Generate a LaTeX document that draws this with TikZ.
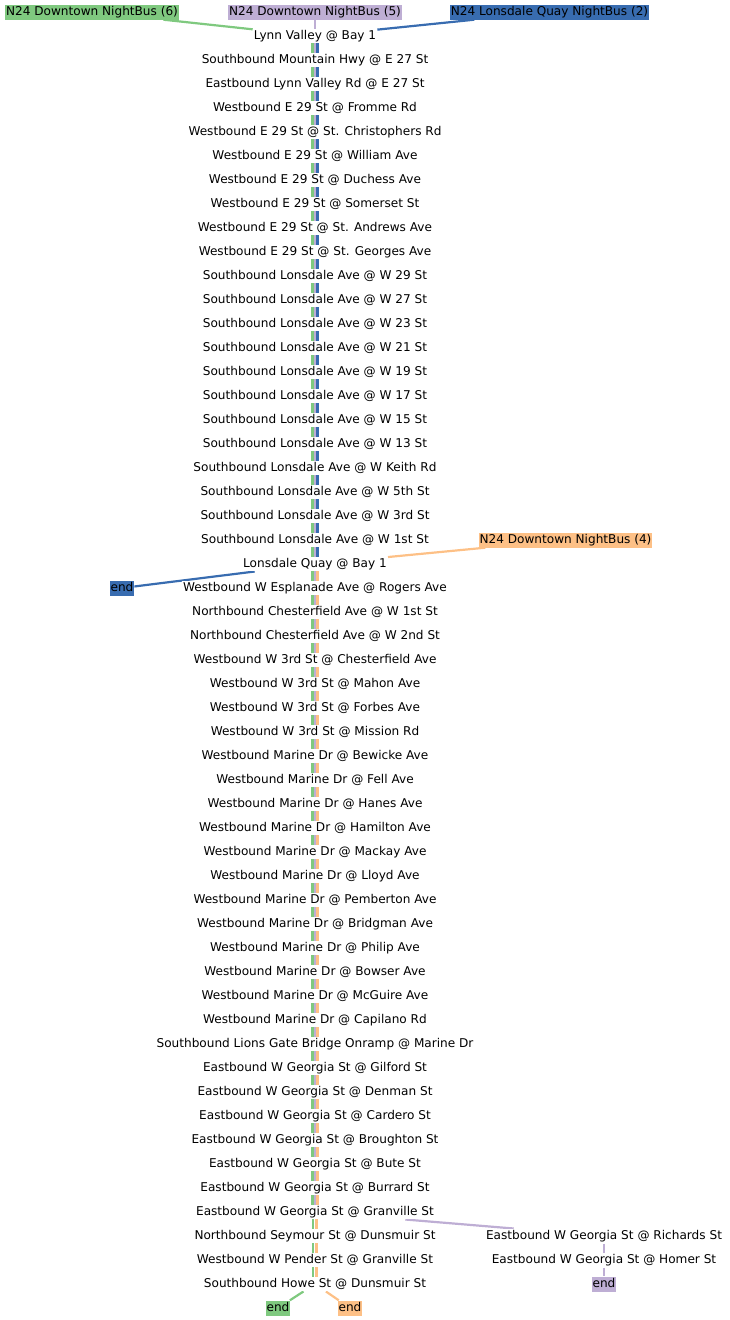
\documentclass[tikz,border=0pt]{standalone}
\usepackage{fontspec}
\setmainfont{DejaVu Sans}
\usetikzlibrary{backgrounds}
\definecolor{rgrn} {HTML}{7FC97F}
\definecolor{rpurp}{HTML}{BEAED4}
\definecolor{rorng}{HTML}{FDC086}
\definecolor{rblue}{HTML}{386CB0}
\tikzset{
  % White stop label
  SB/.style={rectangle,fill=white,inner xsep=1pt,inner ysep=1.5pt,
             text height=9pt,text depth=2.6pt,
             font=\fontsize{12.1}{14}\selectfont},
  % Coloured route tag / end tag
  TG/.style={SB,fill=#1,inner xsep=0.8pt,inner ysep=1.7pt},
  % Route lines
  GLn/.style={line width=2.2pt,color=rgrn},
  PLn/.style={line width=2.2pt,color=rpurp},
  BLn/.style={line width=2.2pt,color=rblue},
  OLn/.style={line width=2.2pt,color=rorng},
}
\begin{document}
\begin{tikzpicture}[x=1pt,y=-1pt]
      \useasboundingbox (0,-1) rectangle (729,1319);
      % route tags
      \node[TG=rgrn]  (t6) at (92,11)   {N24 Downtown NightBus (6)};
      \node[TG=rpurp] (t5) at (315,11)  {N24 Downtown NightBus (5)};
      \node[TG=rblue] (t2) at (549.5,11) {N24 Lonsdale Quay NightBus (2)};
      \node[TG=rorng] (t4) at (565.5,539) {N24 Downtown NightBus (4)};
      % main column of stops
      \node[SB] (s1)  at (315,35)   {Lynn Valley @ Bay 1};
      \node[SB] (s2)  at (315,59)   {Southbound Mountain Hwy @ E 27 St};
      \node[SB] (s3)  at (315,83)   {Eastbound Lynn Valley Rd @ E 27 St};
      \node[SB] (s4)  at (315,107)  {Westbound E 29 St @ Fromme Rd};
      \node[SB] (s5)  at (315,131)  {Westbound E 29 St @ St. Christophers Rd};
      \node[SB] (s6)  at (315,155)  {Westbound E 29 St @ William Ave};
      \node[SB] (s7)  at (315,179)  {Westbound E 29 St @ Duchess Ave};
      \node[SB] (s8)  at (315,203)  {Westbound E 29 St @ Somerset St};
      \node[SB] (s9)  at (315,227)  {Westbound E 29 St @ St. Andrews Ave};
      \node[SB] (s10) at (315,251)  {Westbound E 29 St @ St. Georges Ave};
      \node[SB] (s11) at (315,275)  {Southbound Lonsdale Ave @ W 29 St};
      \node[SB] (s12) at (315,299)  {Southbound Lonsdale Ave @ W 27 St};
      \node[SB] (s13) at (315,323)  {Southbound Lonsdale Ave @ W 23 St};
      \node[SB] (s14) at (315,347)  {Southbound Lonsdale Ave @ W 21 St};
      \node[SB] (s15) at (315,371)  {Southbound Lonsdale Ave @ W 19 St};
      \node[SB] (s16) at (315,395)  {Southbound Lonsdale Ave @ W 17 St};
      \node[SB] (s17) at (315,419)  {Southbound Lonsdale Ave @ W 15 St};
      \node[SB] (s18) at (315,443)  {Southbound Lonsdale Ave @ W 13 St};
      \node[SB] (s19) at (315,467)  {Southbound Lonsdale Ave @ W Keith Rd};
      \node[SB] (s20) at (315,491)  {Southbound Lonsdale Ave @ W 5th St};
      \node[SB] (s21) at (315,515)  {Southbound Lonsdale Ave @ W 3rd St};
      \node[SB] (s22) at (315,539)  {Southbound Lonsdale Ave @ W 1st St};
      \node[SB] (s23) at (315,563)  {Lonsdale Quay @ Bay 1};
      \node[SB] (s24) at (315,587)  {Westbound W Esplanade Ave @ Rogers Ave};
      \node[SB] (s25) at (315,611)  {Northbound Chesterfield Ave @ W 1st St};
      \node[SB] (s26) at (315,635)  {Northbound Chesterfield Ave @ W 2nd St};
      \node[SB] (s27) at (315,659)  {Westbound W 3rd St @ Chesterfield Ave};
      \node[SB] (s28) at (315,683)  {Westbound W 3rd St @ Mahon Ave};
      \node[SB] (s29) at (315,707)  {Westbound W 3rd St @ Forbes Ave};
      \node[SB] (s30) at (315,731)  {Westbound W 3rd St @ Mission Rd};
      \node[SB] (s31) at (315,755)  {Westbound Marine Dr @ Bewicke Ave};
      \node[SB] (s32) at (315,779)  {Westbound Marine Dr @ Fell Ave};
      \node[SB] (s33) at (315,803)  {Westbound Marine Dr @ Hanes Ave};
      \node[SB] (s34) at (315,827)  {Westbound Marine Dr @ Hamilton Ave};
      \node[SB] (s35) at (315,851)  {Westbound Marine Dr @ Mackay Ave};
      \node[SB] (s36) at (315,875)  {Westbound Marine Dr @ Lloyd Ave};
      \node[SB] (s37) at (315,899)  {Westbound Marine Dr @ Pemberton Ave};
      \node[SB] (s38) at (315,923)  {Westbound Marine Dr @ Bridgman Ave};
      \node[SB] (s39) at (315,947)  {Westbound Marine Dr @ Philip Ave};
      \node[SB] (s40) at (315,971)  {Westbound Marine Dr @ Bowser Ave};
      \node[SB] (s41) at (315,995)  {Westbound Marine Dr @ McGuire Ave};
      \node[SB] (s42) at (315,1019) {Westbound Marine Dr @ Capilano Rd};
      \node[SB] (s43) at (315,1043) {Southbound Lions Gate Bridge Onramp @ Marine Dr};
      \node[SB] (s44) at (315,1067) {Eastbound W Georgia St @ Gilford St};
      \node[SB] (s45) at (315,1091) {Eastbound W Georgia St @ Denman St};
      \node[SB] (s46) at (315,1115) {Eastbound W Georgia St @ Cardero St};
      \node[SB] (s47) at (315,1139) {Eastbound W Georgia St @ Broughton St};
      \node[SB] (s48) at (315,1163) {Eastbound W Georgia St @ Bute St};
      \node[SB] (s49) at (315,1187) {Eastbound W Georgia St @ Burrard St};
      \node[SB] (s50) at (315,1211) {Eastbound W Georgia St @ Granville St};
      \node[SB] (s51) at (315,1235) {Northbound Seymour St @ Dunsmuir St};
      \node[SB] (s52) at (315,1259) {Westbound W Pender St @ Granville St};
      \node[SB] (s53) at (315,1283) {Southbound Howe St @ Dunsmuir St};
      % purple branch
      \node[SB] (r1) at (604,1235) {Eastbound W Georgia St @ Richards St};
      \node[SB] (r2) at (604,1259) {Eastbound W Georgia St @ Homer St};
      % ends
      \node[TG=rblue]  (eB) at (122,587)  {end};
      \node[TG=rgrn]   (eG) at (278,1307) {end};
      \node[TG=rorng]  (eO) at (350,1307) {end};
      \node[TG=rpurp]  (eP) at (604,1283) {end};
      \begin{scope}[on background layer]
        \draw[GLn] (t6) -- (s1);
        \draw[PLn] (t5) -- (s1);
        \draw[BLn] (t2) -- (s1);
        \foreach \i in {1,...,22}{
          \pgfmathtruncatemacro\j{\i+1}
          \draw[GLn] ([xshift=-2.5]s\i.center) -- ([xshift=-2.5]s\j.center);
          \draw[PLn] (s\i.center) -- (s\j.center);
          \draw[BLn] ([xshift=2.5]s\i.center) -- ([xshift=2.5]s\j.center);
        }
        \draw[BLn] (s23) -- (eB);
        \draw[OLn] (t4) -- (s23);
        \foreach \i in {23,...,49}{
          \pgfmathtruncatemacro\j{\i+1}
          \draw[GLn] ([xshift=-2.5]s\i.center) -- ([xshift=-2.5]s\j.center);
          \draw[PLn] (s\i.center) -- (s\j.center);
          \draw[OLn] ([xshift=2.5]s\i.center) -- ([xshift=2.5]s\j.center);
        }
        \foreach \i in {50,...,52}{
          \pgfmathtruncatemacro\j{\i+1}
          \draw[GLn] ([xshift=-2]s\i.center) -- ([xshift=-2]s\j.center);
          \draw[OLn] ([xshift=1.5]s\i.center) -- ([xshift=1.5]s\j.center);
        }
        \draw[PLn] (s50) -- (r1);
        \draw[PLn] (r1) -- (r2);
        \draw[PLn] (r2) -- (eP);
        \draw[GLn] (s53) -- (eG);
        \draw[OLn] (s53) -- (eO);
      \end{scope}
    \end{tikzpicture}
\end{document}
